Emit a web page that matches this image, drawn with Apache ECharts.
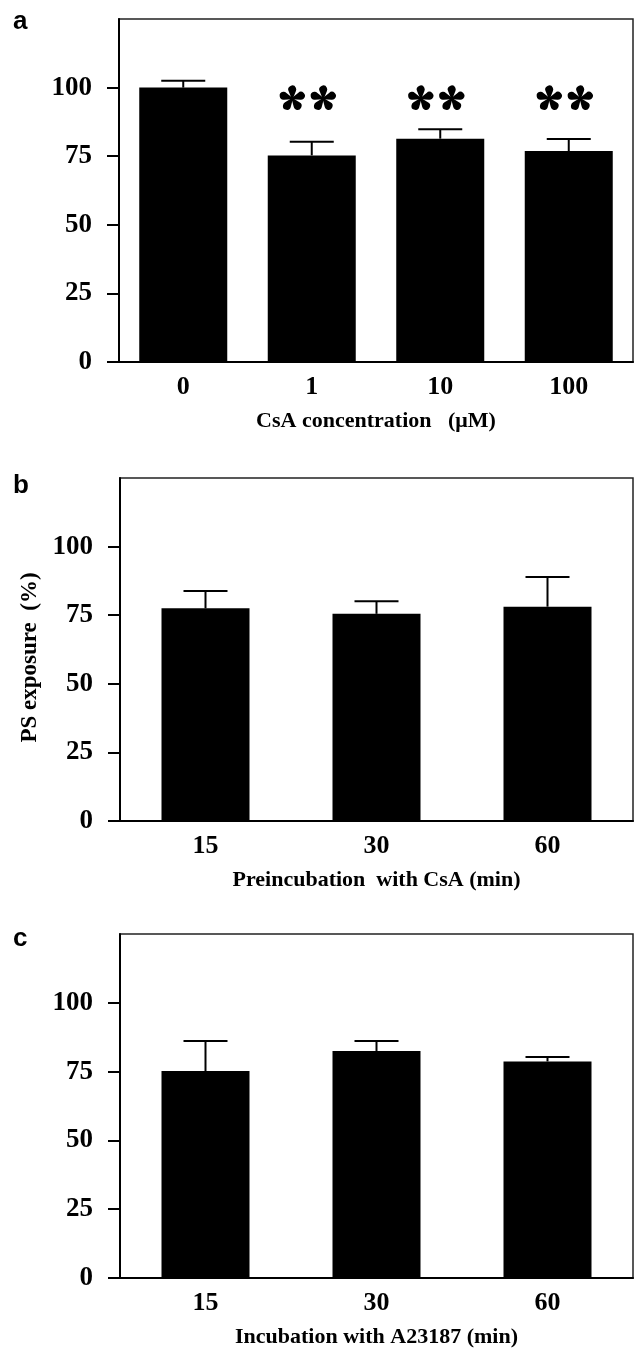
<!DOCTYPE html>
<html><head><meta charset="utf-8">
<script src="https://cdn.jsdelivr.net/npm/echarts@6/dist/echarts.min.js"></script>
<style>html,body{margin:0;padding:0;background:#fff}#c{width:635px;height:1349px}</style>
</head><body><div id="c"></div>
<script>
// ---- data ----
const catsA = ['0', '1', '10', '100'];
const meanA = [100, 75.3, 81.4, 76.9];
const semA = [2.5, 5.0, 3.4, 4.4];
const sigA = ['', '**', '**', '**'];
const catsB = ['15', '30', '60'];
const meanB = [77.5, 75.5, 78.1];
const semB = [6.3, 4.6, 10.8];
const catsC = ['15', '30', '60'];
const meanC = [75.2, 82.5, 78.7];
const semC = [10.9, 3.6, 1.6];
const yTicks = [0, 25, 50, 75, 100];
const panelLetters = ['a', 'b', 'c'];
const xNames = ['CsA concentration   (\u03bcM)', 'Preincubation  with CsA (min)', 'Incubation with A23187 (min)'];
const yName = 'PS exposure  (%)';

// ---- layout ----
const SERIF = '"Liberation Serif", "Times New Roman", serif';
const panels = [
  { cats: catsA, mean: meanA, sem: semA, sig: sigA, top: 19, height: 343, left: 119 },
  { cats: catsB, mean: meanB, sem: semB, sig: null, top: 478, height: 343, left: 120 },
  { cats: catsC, mean: meanC, sem: semC, sig: null, top: 934, height: 344, left: 120 }
];
const letterY = [24, 488, 941];
// five-petal teardrop asterisk (one petal pointing up, centred on origin)
const PETAL = 'M -0.9 -0.5 L -3.6 -7.3 A 4 4 0 1 1 3.6 -7.3 L 0.9 -0.5 Z';

function asteriskGlyph(cx, cy) {
  const kids = [{ type: 'circle', shape: { cx: cx, cy: cy, r: 2.2 }, style: { fill: '#000' } }];
  for (let j = 0; j < 5; j++) {
    kids.push({ type: 'path', x: cx, y: cy, rotation: j * 2 * Math.PI / 5,
      shape: { pathData: PETAL }, style: { fill: '#000' } });
  }
  return kids;
}

const grid = [], xAxis = [], yAxis = [], series = [], graphic = [];
panels.forEach((p, k) => {
  grid.push({ left: p.left, right: 2, top: p.top, height: p.height, show: true,
    borderColor: '#222', borderWidth: 1.5, backgroundColor: 'transparent' });
  xAxis.push({
    type: 'category', gridIndex: k, data: p.cats,
    axisLine: { lineStyle: { color: '#000', width: 2 } },
    axisTick: { show: false },
    axisLabel: { color: '#000', fontFamily: SERIF, fontWeight: 'bold', fontSize: 26, margin: 12 },
    name: xNames[k], nameLocation: 'middle', nameGap: 48,
    nameTextStyle: { color: '#000', fontFamily: SERIF, fontWeight: 'bold', fontSize: 22 }
  });
  yAxis.push({
    type: 'value', gridIndex: k, min: 0, max: 125, interval: 25,
    axisLine: { show: true, lineStyle: { color: '#000', width: 2 } },
    axisTick: { show: true, length: 12, customValues: yTicks, lineStyle: { color: '#000', width: 2 } },
    axisLabel: { customValues: yTicks, color: '#000', fontFamily: SERIF, fontWeight: 'bold', fontSize: 27, margin: 27 },
    splitLine: { show: false },
    name: k === 1 ? yName : '', nameLocation: 'middle', nameGap: 73,
    nameTextStyle: { color: '#000', fontFamily: SERIF, fontWeight: 'bold', fontSize: 23, padding: [0, 16, 0, 0] }
  });
  series.push({
    type: 'bar', xAxisIndex: k, yAxisIndex: k, data: p.mean, barWidth: 88,
    itemStyle: { color: '#000' }, silent: true, z: 2
  });
  series.push({
    type: 'custom', xAxisIndex: k, yAxisIndex: k, z: 3, silent: true,
    data: p.mean.map((m, i) => [i, m, m + p.sem[i]]),
    encode: { x: 0, y: [1, 2] },
    renderItem: (params, api) => {
      const base = api.coord([api.value(0), api.value(1)]);
      const hi = api.coord([api.value(0), api.value(2)]);
      return { type: 'group', children: [
        { type: 'line', shape: { x1: base[0], y1: base[1], x2: base[0], y2: hi[1] }, style: { stroke: '#000', lineWidth: 2 } },
        { type: 'line', shape: { x1: base[0] - 22, y1: hi[1], x2: base[0] + 22, y2: hi[1] }, style: { stroke: '#000', lineWidth: 2 } }
      ] };
    }
  });
  if (p.sig) {
    series.push({
      type: 'custom', xAxisIndex: k, yAxisIndex: k, z: 4, silent: true,
      data: p.sig.map((s, i) => [i, 96]),
      encode: { x: 0, y: 1 },
      renderItem: (params, api) => {
        const s = p.sig[params.dataIndex];
        if (!s) return null;
        const pt = api.coord([api.value(0), api.value(1)]);
        const n = s.length, gap = 31;
        let kids = [];
        for (let j = 0; j < n; j++) {
          const cx = pt[0] - 4 + (j - (n - 1) / 2) * gap;
          kids = kids.concat(asteriskGlyph(cx, pt[1]));
        }
        return { type: 'group', children: kids };
      }
    });
  }
  graphic.push({ type: 'text', left: 13, top: letterY[k] - 15,
    style: { text: panelLetters[k], fill: '#000', font: 'bold 26px "Liberation Sans", Arial, sans-serif' } });
});

const chart = echarts.init(document.getElementById('c'), null, { renderer: 'canvas' });
chart.setOption({ animation: false, backgroundColor: '#fff', grid, xAxis, yAxis, series, graphic });
</script></body></html>
